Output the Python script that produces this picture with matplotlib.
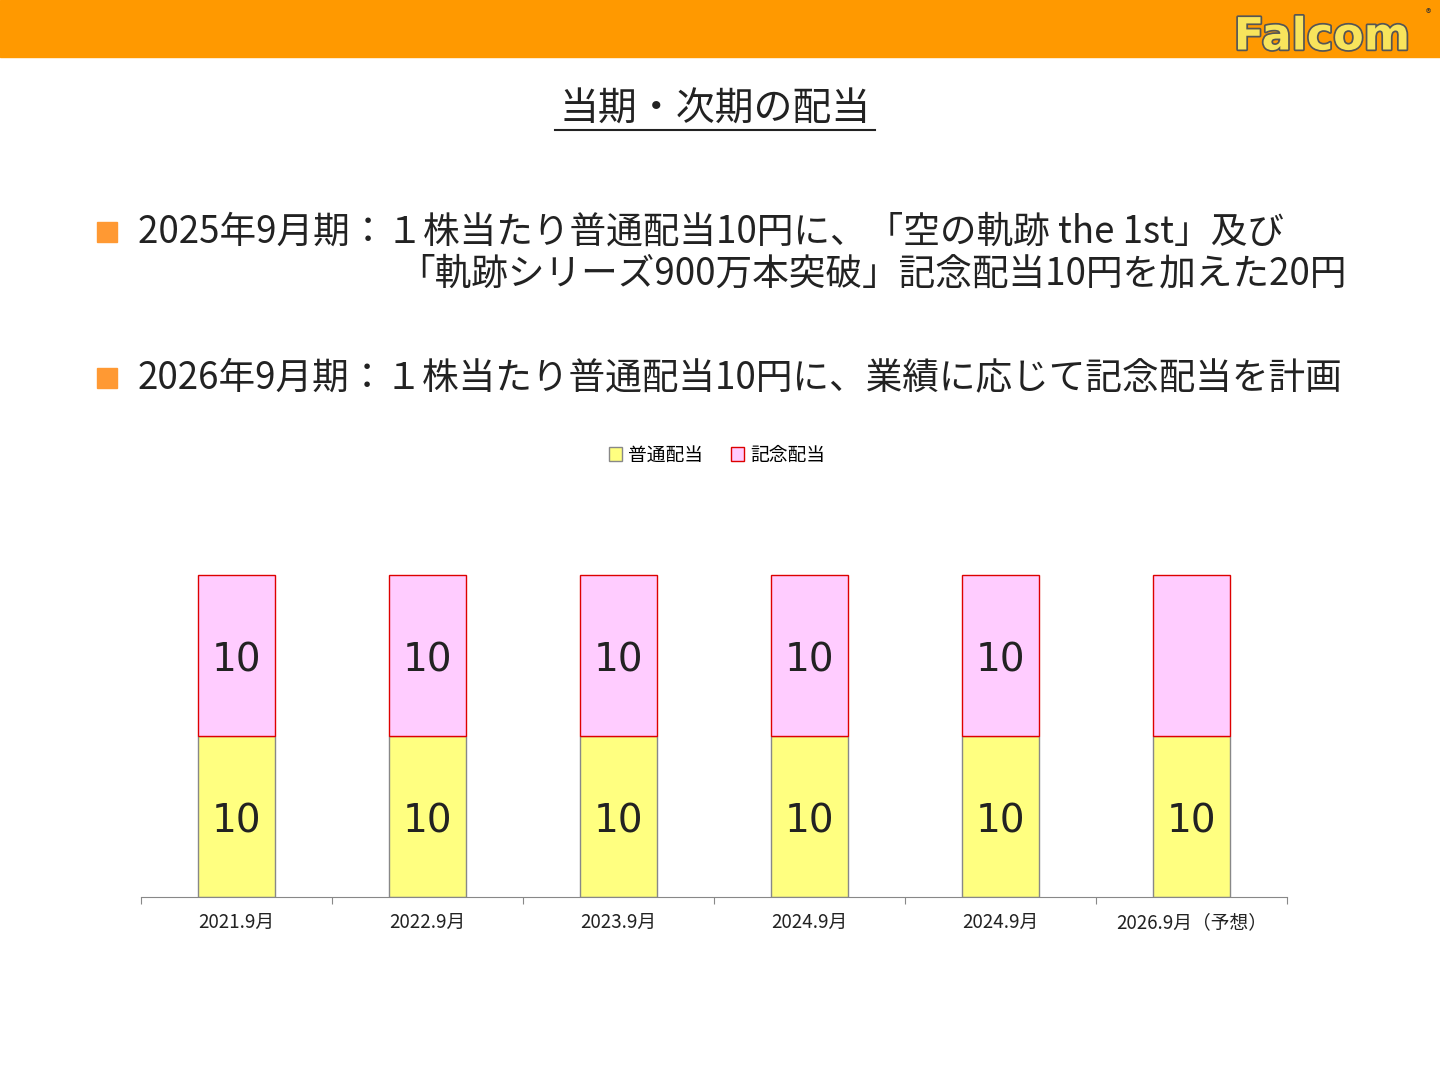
import matplotlib
matplotlib.use("Agg")
import matplotlib.pyplot as plt
import matplotlib.patheffects as pe
from matplotlib.patches import Rectangle, Patch

plt.rcParams['font.family'] = ['Noto Sans CJK JP', 'DejaVu Sans']

categories = ["2021.9月", "2022.9月", "2023.9月", "2024.9月", "2024.9月", "2026.9月（予想）"]
regular = [10, 10, 10, 10, 10, 10]
commemorative = [10, 10, 10, 10, 10, 10]
commem_labels = ["10", "10", "10", "10", "10", ""]

W, H = 1440, 1080
fig = plt.figure(figsize=(14.4, 10.8), dpi=100)
fig.patch.set_facecolor("white")

def fx(x): return x / W
def fy(y): return 1 - y / H

# header bar
fig.patches.append(Rectangle((0, fy(57)), 1, 57 / H, transform=fig.transFigure,
                             color="#FF9900", zorder=0))
fig.text(fx(1322), fy(37), "Falcom", ha="center", va="center", fontsize=32,
         fontweight="bold", color="#F8E45C", family="DejaVu Sans",
         path_effects=[pe.withStroke(linewidth=2.5, foreground="#555555")])
fig.text(fx(1428), fy(14), "®", ha="center", va="center", fontsize=8, color="#333333")

# title
fig.text(fx(715), fy(110), "当期・次期の配当", ha="center", va="center",
         fontsize=28, color="#222222")
fig.lines.append(plt.Line2D([fx(555), fx(875)], [fy(130), fy(130)],
                            transform=fig.transFigure, color="#222222", lw=1.5))

# bullets
for y in (232, 378):
    fig.patches.append(Rectangle((fx(97), fy(y + 10)), 20 / W, 20 / H,
                                 transform=fig.transFigure, color="#FF9933"))
fs = 26.4
fig.text(fx(138), fy(232), "2025年9月期：１株当たり普通配当10円に、「空の軌跡 the 1st」及び",
         ha="left", va="center", fontsize=fs, color="#222222")
fig.text(fx(398), fy(274), "「軌跡シリーズ900万本突破」記念配当10円を加えた20円",
         ha="left", va="center", fontsize=fs, color="#222222")
fig.text(fx(138), fy(378), "2026年9月期：１株当たり普通配当10円に、業績に応じて記念配当を計画",
         ha="left", va="center", fontsize=fs, color="#222222")

# chart
ax = fig.add_axes([fx(141), 1 - 897 / H, 1146 / W, 402 / H])
x = list(range(len(categories)))
ax.bar(x, regular, width=0.4, color="#FFFF80", edgecolor="#888888", linewidth=1)
ax.bar(x, commemorative, bottom=regular, width=0.4, color="#FFCCFF",
       edgecolor="#DD0000", linewidth=1)
for i in x:
    ax.text(i, regular[i] / 2 - 0.3, str(regular[i]), ha="center", va="center",
            fontsize=28, color="#222222", family="DejaVu Sans")
    if commem_labels[i]:
        ax.text(i, regular[i] + commemorative[i] / 2 - 0.3, commem_labels[i], ha="center",
                va="center", fontsize=28, color="#222222", family="DejaVu Sans")
ax.set_xlim(-0.5, len(categories) - 0.5)
ax.set_ylim(0, 25)
for s in ("top", "right", "left"):
    ax.spines[s].set_visible(False)
ax.spines["bottom"].set_color("#888888")
ax.set_yticks([])
ax.set_xticks([i - 0.5 for i in range(len(categories) + 1)])
ax.set_xticklabels([])
ax.tick_params(axis="x", length=5, color="#888888")
for i, c in enumerate(categories):
    ax.text(i, -0.95, c, ha="center", va="top", fontsize=13.5, color="#222222")

# legend
fig.legend(handles=[Patch(facecolor="#FFFF80", edgecolor="#888888", label="普通配当"),
                    Patch(facecolor="#FFCCFF", edgecolor="#DD0000", label="記念配当")],
           loc="center", bbox_to_anchor=(fx(717), fy(455)), ncol=2, frameon=False,
           fontsize=13.5, handlelength=0.7, handleheight=0.7, handletextpad=0.3,
           columnspacing=1.5)

fig.savefig("out.png", dpi=100)
